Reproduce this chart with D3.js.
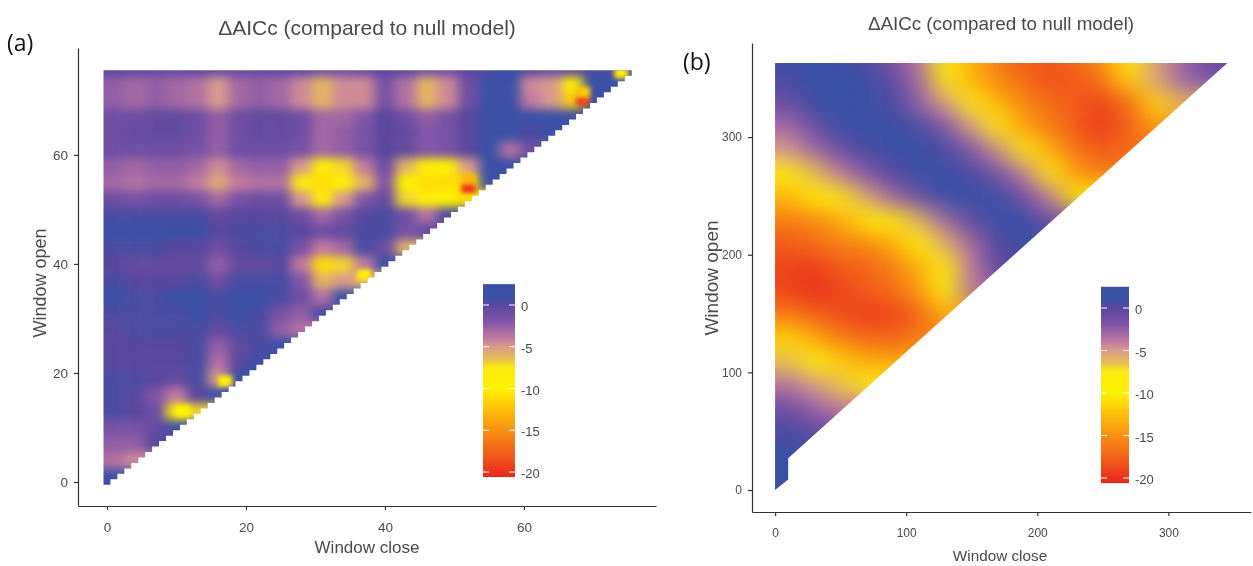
<!DOCTYPE html>
<html>
<head>
<meta charset="utf-8">
<script src="https://cdn.jsdelivr.net/npm/d3@7"></script>
<style>
html, body { margin: 0; background: #fff; }
svg { display: block; }
text { font-family: "Liberation Sans", Arial, sans-serif; fill: #4a4a4a; }
</style>
</head>
<body>
<svg id="chart" width="1253" height="566"></svg>
<script>
const titleText = 'ΔAICc (compared to null model)';
const legendTicks = [0, -5, -10, -15, -20];
const ticksCloseA = [0, 20, 40, 60];
const ticksOpenA = [0, 20, 40, 60];
const ticksCloseB = [0, 100, 200, 300];
const ticksOpenB = [0, 100, 200, 300];

// colour ramp
const rampValues = [2.5, 1, 0, -2, -4, -5, -6.5, -7.5, -10, -12, -15, -18, -20.6];
const rampColors = ['#3a52a6', '#3b50a6', '#5a479f', '#8355a8', '#c27aa0', '#d89a8c', '#e8c050',
    '#fdea10', '#fff200', '#fdc808', '#f99012', '#f25a1a', '#e8261c'];

// panel (a): cells 3 units wide, rows listed from open=0 upward, each row from close=0 to the diagonal
const stepA = 3;
const aicA = [
    [1],
    [-3.5, -4.5],
    [-2.5, -2.5, 0],
    [-1.5, -1.5, -0.5, 1],
    [0.5, 0, -1, -9, -7],
    [0.5, 0, -2, -4, 0, 1],
    [0.5, 0.5, 0, -0.5, 0.5, -5, 1],
    [0, 0, 0, 0, 0.5, -3.5, 0, 1],
    [0, 0, 0, 0, 0.5, -2.5, -0.5, 0.5, 1],
    [0, 0.5, 0.5, 0.5, 0.5, -0.5, 0.5, 0.5, -2.5, -3.5],
    [0.5, 0.5, 0.5, 0.5, 1, 0.5, 1, 0.5, -1.5, -2.5, 0.5],
    [1, 0.5, 0.5, 1, 1, 0.5, 1, 1, 0.5, -1, -3.5, 1],
    [0.5, 0, 0, 0, 0.5, -1, 0.5, 0.5, 0.5, -2, -6, -5, -6],
    [0, -0.5, -0.5, -0.5, -0.5, -2.5, -0.5, -0.5, 0, -4, -11, -7, -4, 1],
    [0.5, 0.5, 0.5, 0, 0, -1, 0, 0.5, 0.5, -1.5, -4, -3, 0.5, -1, -6],
    [1, 1, 1, 1, 1, 0, 0.5, 0.5, 0.5, 0, -1, -0.5, 0.5, 0.5, -1.5, -0.5],
    [0.5, 0.5, 0.5, 0.5, 0.5, -0.5, 0, 0, 0, -1, -3, -1.5, 0, 0.5, -1, -3.5, 0.5],
    [-1, -1.5, -1, -1, -1.5, -3, -1.5, -1, -1, -5, -8, -5, -2, -0.5, -7, -9, -10, -11],
    [-3, -3.5, -3, -3, -4, -5.5, -4, -3.5, -3.5, -8, -11, -9, -6, -2, -10, -11, -11, -11, 1],
    [-2.5, -3, -2.5, -2.5, -3, -4.5, -3, -2.5, -2.5, -5, -9, -7, -4, -1, -6, -9, -9, -5, 1, 1],
    [-1, -1, -1, -1, -1.5, -2.5, -1, -1, -1, -1.5, -3, -2.5, -1.5, 0, -0.5, -2, -1.5, 0, 1, -3.5, -1],
    [-1, -0.5, -0.5, -0.5, -1, -2.5, -1, -0.5, -0.5, -1, -3, -2.5, -1.5, 0, -0.5, -2, -1.5, 0, 1, 1, 0.5, 1],
    [-1, -1, -0.5, -0.5, -1, -2.5, -1, -0.5, -0.5, -1, -3, -3, -2, 0, -1, -2.5, -1.5, 0, 1, 1, 1, 1, 1],
    [-2.5, -3, -2.5, -3, -3.5, -5, -3, -2.5, -3, -4.5, -6, -4.5, -4.5, -1.5, -3.5, -6, -4.5, -1, 1, 1, -4, -5, -12, 1],
    [-2.5, -3, -2.5, -3, -3.5, -5, -3, -2.5, -3, -4.5, -6, -4.5, -4.5, -1.5, -3.5, -6, -4.5, -1, 1, 1, -4.5, -5, -9, 1, 1],
    [0, 0, -0.5, -0.5, 0, -0.5, -0.5, -0.5, 0, 0, -1, -1, -0.5, 0, 0, -1, -1, 0, 0.5, 1, 0, -0.5, 0, 0.5, 0.5, 0.5]
];

// small hot spots of panel (a)
const peakCloseA = [52, 52, 68.5, 68.5, 74, 37, 17, 11];
const peakOpenA = [54, 55.5, 70, 71.5, 75, 38, 18.5, 13];
const peakValueA = [-20, -13, -19, -12, -9, -9, -9, -10];

// panel (b): cells 20 units wide, same row order
const stepB = 20;
const aicB = [
    [2],
    [2],
    [0.5, -0.5],
    [-1, -2.5, -4],
    [-3.5, -5, -6.5, -8],
    [-6.5, -8, -11.5, -13.5, -13.5],
    [-11.5, -13.5, -16, -17, -17.5, -16],
    [-16, -17.5, -18.5, -19.5, -19, -17.5, -13.5],
    [-19, -20, -19, -18, -17, -14.5, -8, -3.5],
    [-19, -19.5, -18, -17.5, -16, -13.5, -8, -4, 0],
    [-18, -17, -16, -15.5, -13.5, -9.5, -6, -3, 0, 1.5],
    [-16, -15.5, -13.5, -10.5, -8.5, -6, -3, -0.5, 2, 1, -1],
    [-13, -10.5, -7.5, -5.5, -3, -1, 1, 2, 1, -1, -4, -9.5],
    [-8, -6.5, -4, -2, 0, 1.5, 2, 0.5, -1.5, -4, -8, -14.5, -16],
    [-5, -3, -1, 0.5, 2, 2, 0.5, -2, -4.5, -8, -13.5, -16.5, -18, -17],
    [-3, -1, 1, 2, 2, 0.5, -2, -5, -8.5, -14, -16, -18, -19.5, -17.5, -14.5],
    [-1, 1, 2, 2, 0.5, -2.5, -5, -8, -13, -15.5, -17, -18, -19, -17, -11.5, -6],
    [0.5, 2, 2, 1, -0.5, -3, -7.5, -13, -15.5, -17, -18.5, -18, -16.5, -11.5, -5.5, -3, -1.5],
    [1, 2, 1.5, 0, -2, -4, -7.5, -13, -16, -18, -18, -17, -14.5, -9, -5.5, -3, -1, 0]
];

// outline of panel (b): window close / open pairs of the wedge
const edgeCloseB = [0, 0, 345, 10, 10];
const edgeOpenB = [0, 363, 363, 27, 9];

const svg = d3.select('#chart');
const defs = svg.append('defs');

function blurFilter(id, sx, sy) {
    defs.append('filter')
        .attr('id', id)
        .attr('filterUnits', 'userSpaceOnUse')
        .attr('x', 0).attr('y', 0).attr('width', 1253).attr('height', 566)
        .attr('color-interpolation-filters', 'sRGB')
        .append('feGaussianBlur')
        .attr('stdDeviation', sx + ' ' + sy);
}
blurFilter('blurA', 6, 5);
blurFilter('blurPeak', 2.5, 2);
blurFilter('blurB', 12, 10.5);
blurFilter('soft', 0.55, 0.55);

const color = d3.scaleLinear().domain(rampValues).range(rampColors).clamp(true);

function drawHeat(group, rows, step, x, y) {
    // the outer cells run past the wedge so the blur has colour to work with
    const cells = rows.flatMap((row, j) => row.map((v, i) => ({
        x0: i === 0 ? -step * 3 : i * step - 0.5,
        x1: i === row.length - 1 ? (i + 5) * step : (i + 1) * step - 0.5,
        y0: j === 0 ? -step * 3 : j * step - 0.5,
        y1: j === rows.length - 1 ? (j + 4) * step : (j + 1) * step - 0.5,
        v: v
    })));
    group.selectAll('rect')
        .data(cells)
        .join('rect')
        .attr('x', (d) => x(d.x0))
        .attr('y', (d) => y(d.y1))
        .attr('width', (d) => x(d.x1) - x(d.x0) + 0.5)
        .attr('height', (d) => y(d.y0) - y(d.y1) + 0.5)
        .attr('fill', (d) => color(d.v));
}

function drawAxes(group, x, y, xTicks, yTicks, bottom, left, fontSize) {
    const xAxis = group.append('g')
        .attr('transform', `translate(0,${bottom})`)
        .call(d3.axisBottom(x).tickValues(xTicks).tickSize(4).tickPadding(12).tickSizeOuter(0));
    const yAxis = group.append('g')
        .attr('transform', `translate(${left},0)`)
        .call(d3.axisLeft(y).tickValues(yTicks).tickSize(4).tickPadding(6).tickSizeOuter(0));
    [xAxis, yAxis].forEach((a) => {
        a.selectAll('text').attr('font-size', fontSize).attr('font-family', null);
        a.selectAll('path, line').attr('stroke', '#333').attr('stroke-width', 1.2);
    });
}

function drawLegend(id, group, left, width, scale) {
    const gradient = defs.append('linearGradient')
        .attr('id', id)
        .attr('gradientUnits', 'userSpaceOnUse')
        .attr('x1', 0).attr('x2', 0)
        .attr('y1', scale(rampValues[0]))
        .attr('y2', scale(rampValues[rampValues.length - 1]));
    gradient.selectAll('stop')
        .data(rampValues)
        .join('stop')
        .attr('offset', (d) => (scale(d) - scale(rampValues[0])) /
            (scale(rampValues[rampValues.length - 1]) - scale(rampValues[0])))
        .attr('stop-color', (d) => color(d));
    group.append('rect')
        .attr('x', left)
        .attr('y', scale(rampValues[0]))
        .attr('width', width)
        .attr('height', scale(rampValues[rampValues.length - 1]) - scale(rampValues[0]))
        .attr('fill', `url(#${id})`);
    legendTicks.forEach((t) => {
        [left, left + width - 6].forEach((lx) => {
            group.append('line')
                .attr('x1', lx).attr('x2', lx + 6)
                .attr('y1', scale(t)).attr('y2', scale(t))
                .attr('stroke', '#fff').attr('stroke-width', 1);
        });
        group.append('text')
            .attr('x', left + width + 6)
            .attr('y', scale(t) + 6)
            .attr('font-size', 13)
            .text(t);
    });
}

function addText(group, str, px, py, size, rotate) {
    const t = group.append('text')
        .attr('text-anchor', 'middle')
        .attr('font-size', size)
        .text(str);
    if (rotate) t.attr('transform', `translate(${px},${py}) rotate(-90)`);
    else t.attr('x', px).attr('y', py);
    return t;
}

// ---- panel (a)
const xA = d3.scaleLinear().domain([-4.17, 79]).range([78, 656]);
const yA = d3.scaleLinear().domain([-4.4, 79.6]).range([506, 48]);

const stairA = [[-0.5, -0.5]];
d3.range(0, 76).forEach((k) => { stairA.push([k + 0.5, k - 0.5], [k + 0.5, k + 0.5]); });
stairA.push([-0.5, 75.5]);
const lineA = d3.line().x((d) => xA(d[0])).y((d) => yA(d[1]));
defs.append('clipPath').attr('id', 'wedgeA').append('path').attr('d', lineA(stairA) + 'Z');

const panelA = svg.append('g').attr('filter', 'url(#soft)');
const heatA = panelA.append('g').attr('clip-path', 'url(#wedgeA)');
drawHeat(heatA.append('g').attr('filter', 'url(#blurA)'), aicA, stepA, xA, yA);
heatA.append('g').attr('filter', 'url(#blurPeak)')
    .selectAll('rect')
    .data(peakValueA)
    .join('rect')
    .attr('x', (d, i) => xA(peakCloseA[i] - 1))
    .attr('y', (d, i) => yA(peakOpenA[i] + 1))
    .attr('width', xA(2) - xA(0))
    .attr('height', yA(0) - yA(2))
    .attr('fill', (d) => color(d));
drawAxes(panelA, xA, yA, ticksCloseA, ticksOpenA, 506, 78, 13.5);
drawLegend('keyA', panelA.append('g'), 483, 32, d3.scaleLinear().domain([0, -20]).range([305, 472]));
addText(panelA, titleText, 367, 35, 21);
addText(panelA, 'Window close', 367, 553, 17);
addText(panelA, 'Window open', 46, 283, 18, true);

// ---- panel (b)
const xB = d3.scaleLinear().domain([-17.6, 363]).range([752, 1251]);
const yB = d3.scaleLinear().domain([-18.7, 380]).range([512, 43]);

const lineB = d3.line().x((d) => xB(d)).y((d, i) => yB(edgeOpenB[i]));
defs.append('clipPath').attr('id', 'wedgeB').append('path').attr('d', lineB(edgeCloseB) + 'Z');

const panelB = svg.append('g').attr('filter', 'url(#soft)');
drawHeat(panelB.append('g').attr('clip-path', 'url(#wedgeB)').append('g').attr('filter', 'url(#blurB)'),
    aicB, stepB, xB, yB);
drawAxes(panelB, xB, yB, ticksCloseB, ticksOpenB, 512, 752, 12);
drawLegend('keyB', panelB.append('g'), 1101, 28, d3.scaleLinear().domain([0, -20]).range([308, 478]));
addText(panelB, titleText, 1001, 30, 18.8);
addText(panelB, 'Window close', 1000, 561, 15.3);
addText(panelB, 'Window open', 718, 278, 19, true);

// ---- panel letters
svg.append('text').attr('x', 7).attr('y', 51).attr('font-size', 23)
    .style('font-family', '"Open Sans", sans-serif').style('fill', '#111').text('(a)');
svg.append('text').attr('x', 683).attr('y', 70).attr('font-size', 23)
    .style('font-family', '"Open Sans", sans-serif').style('fill', '#111').text('(b)');
</script>
</body>
</html>
